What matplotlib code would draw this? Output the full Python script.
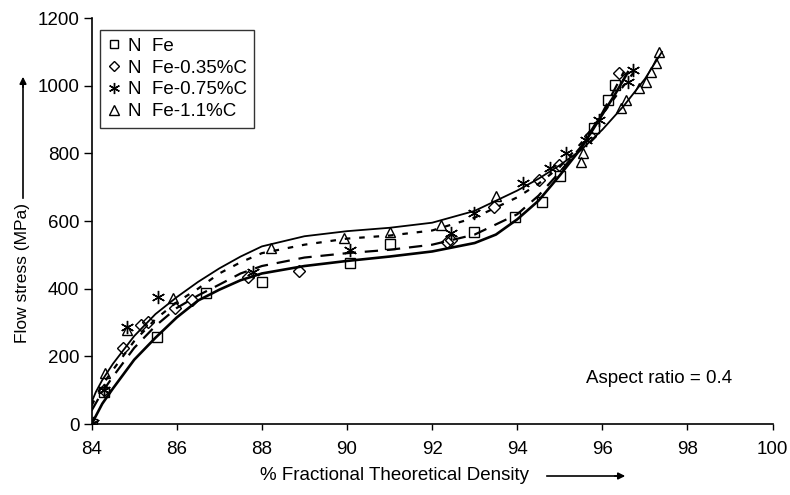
import numpy as np
import matplotlib.pyplot as plt
from matplotlib.lines import Line2D

plt.rcParams['font.family'] = ['Liberation Sans', 'DejaVu Sans']

# measured points (% theoretical density, flow stress MPa)
fe_x = [84.0, 84.3, 85.53, 86.68, 88.01, 90.06, 91.0, 92.98, 93.94, 94.58, 95.01, 95.8, 96.13, 96.3]
fe_y = [0, 95, 256, 386, 421, 475, 532, 567, 613, 657, 733, 876, 958, 1002]

c035_x = [84.3, 84.74, 85.17, 85.33, 85.96, 86.35, 87.68, 88.87, 92.36, 92.45, 93.45, 94.52, 94.99, 95.7, 96.4]
c035_y = [100, 224, 293, 302, 342, 367, 435, 453, 539, 545, 641, 721, 766, 850, 1038]

c075_x = [84.04, 84.3, 84.82, 85.56, 87.79, 90.06, 92.44, 92.98, 94.13, 94.76, 95.15, 95.62, 95.93, 96.6, 96.71]
c075_y = [2, 100, 288, 376, 450, 514, 565, 624, 711, 756, 800, 840, 899, 1012, 1046]

c11_x = [84.31, 84.82, 85.92, 88.22, 89.93, 91.0, 92.2, 93.5, 95.5, 95.55, 96.44, 96.56, 96.87, 97.03, 97.15, 97.26, 97.34]
c11_y = [150, 278, 371, 519, 551, 568, 588, 674, 775, 800, 933, 958, 992, 1012, 1041, 1066, 1100]

# fitted curves
fe_fit_x = [84.0, 84.25, 84.5, 85.0, 85.5, 86.0, 86.5, 87.0, 87.5, 88.0, 89.0, 90.0, 91.0, 92.0, 93.0, 93.5, 94.0, 94.5, 95.0, 95.5, 96.0, 96.3, 96.6]
fe_fit_y = [0, 60, 105, 190, 255, 315, 365, 397, 425, 445, 467, 482, 495, 510, 535, 560, 605, 660, 735, 815, 915, 975, 1040]

c035_fit_x = [84.0, 84.25, 84.5, 85.0, 85.5, 86.0, 86.5, 87.0, 87.5, 88.0, 89.0, 90.0, 91.0, 92.0, 93.0, 94.0, 94.5, 95.0, 95.5, 96.0, 96.5]
c035_fit_y = [40, 95, 140, 225, 290, 343, 380, 412, 445, 467, 492, 505, 515, 530, 560, 620, 675, 745, 820, 920, 1040]

c075_fit_x = [84.0, 84.25, 84.5, 85.0, 85.5, 86.0, 86.5, 87.0, 87.5, 88.0, 89.0, 90.0, 91.0, 92.0, 93.0, 94.0, 94.5, 95.0, 95.5, 96.0, 96.5, 96.8]
c075_fit_y = [55, 115, 160, 245, 310, 360, 400, 445, 478, 505, 530, 548, 557, 572, 610, 670, 710, 760, 830, 915, 1000, 1050]

c11_fit_x = [84.0, 84.1, 84.25, 84.5, 85.0, 85.5, 86.0, 86.5, 87.0, 87.5, 88.0, 89.0, 90.0, 91.0, 92.0, 93.0, 94.0, 94.5, 95.0, 95.5, 96.0, 96.5, 97.0, 97.4]
c11_fit_y = [65, 95, 130, 178, 260, 325, 375, 420, 460, 495, 525, 555, 570, 580, 595, 630, 690, 725, 765, 810, 870, 940, 1020, 1100]

labels = ['N  Fe', 'N  Fe-0.35%C', 'N  Fe-0.75%C', 'N  Fe-1.1%C']
x_ticks = [84, 86, 88, 90, 92, 94, 96, 98, 100]
y_ticks = [0, 200, 400, 600, 800, 1000, 1200]

star = (6, 2, 0)
fs = 13.5

fig = plt.figure(figsize=(7.9, 4.95), dpi=100)
ax = fig.add_axes([0.116, 0.1434, 0.862, 0.8202])

ax.plot(fe_fit_x, fe_fit_y, color='black', lw=1.9, ls='-')
ax.plot(c035_fit_x, c035_fit_y, color='black', lw=1.6, ls=(0, (6, 4)))
ax.plot(c075_fit_x, c075_fit_y, color='black', lw=1.6, ls=(0, (2.5, 4)))
ax.plot(c11_fit_x, c11_fit_y, color='black', lw=1.3, ls='-')

mk = dict(ls='none', color='black', mfc='none', mew=1.0, ms=7.5)
ax.plot(fe_x, fe_y, marker='s', **mk)
ax.plot(c035_x, c035_y, marker='D', **dict(mk, ms=6))
ax.plot(c075_x, c075_y, marker=star, **dict(mk, ms=9.5))
ax.plot(c11_x, c11_y, marker='^', **mk)

handles = [
    Line2D([], [], marker='s', **dict(mk, ms=6)),
    Line2D([], [], marker='D', **dict(mk, ms=5)),
    Line2D([], [], marker=star, **dict(mk, ms=8)),
    Line2D([], [], marker='^', **dict(mk, ms=6.5)),
]
leg = ax.legend(handles, labels, loc='upper left', bbox_to_anchor=(0.012, 0.97),
                fontsize=fs, frameon=True, fancybox=False, edgecolor='black',
                handlelength=0.7, handletextpad=0.4, labelspacing=0.25,
                borderpad=0.4, borderaxespad=0)
leg.get_frame().set_linewidth(1.0)

ax.set_xlim(84, 100)
ax.set_ylim(0, 1200)
ax.set_xticks(x_ticks)
ax.set_yticks(y_ticks)
ax.tick_params(labelsize=fs, direction='out', width=1, colors='black')
ax.tick_params(axis='x', length=4.3, pad=8)
ax.tick_params(axis='y', length=5.8, pad=3)
ax.spines['top'].set_visible(False)
ax.spines['right'].set_visible(False)
for s in ['left', 'bottom']:
    ax.spines[s].set_linewidth(1.2)

ax.text(0.94, 0.113, 'Aspect ratio = 0.4', transform=ax.transAxes,
        ha='right', va='center', fontsize=fs)

# axis titles with arrows
fig.text(23 / 790, 1 - 273 / 495, 'Flow stress (MPa)', rotation=90,
         ha='center', va='center', fontsize=12.5)
fig.add_artist(plt.Line2D([23 / 790, 23 / 790], [1 - 198 / 495, 1 - 80 / 495],
                          color='black', lw=1.2))
ax.annotate('', xy=(23 / 790, 1 - 74 / 495), xytext=(23 / 790, 1 - 90 / 495),
            xycoords='figure fraction',
            arrowprops=dict(arrowstyle='-|>', color='black', lw=1.2, mutation_scale=10))

fig.text(395 / 790, 1 - 476 / 495, '% Fractional Theoretical Density',
         ha='center', va='center', fontsize=fs)
fig.add_artist(plt.Line2D([547 / 790, 620 / 790], [1 - 476 / 495, 1 - 476 / 495],
                          color='black', lw=1.2))
ax.annotate('', xy=(628 / 790, 1 - 476 / 495), xytext=(612 / 790, 1 - 476 / 495),
            xycoords='figure fraction',
            arrowprops=dict(arrowstyle='-|>', color='black', lw=1.2, mutation_scale=10))

fig.savefig('out.png', dpi=100)
